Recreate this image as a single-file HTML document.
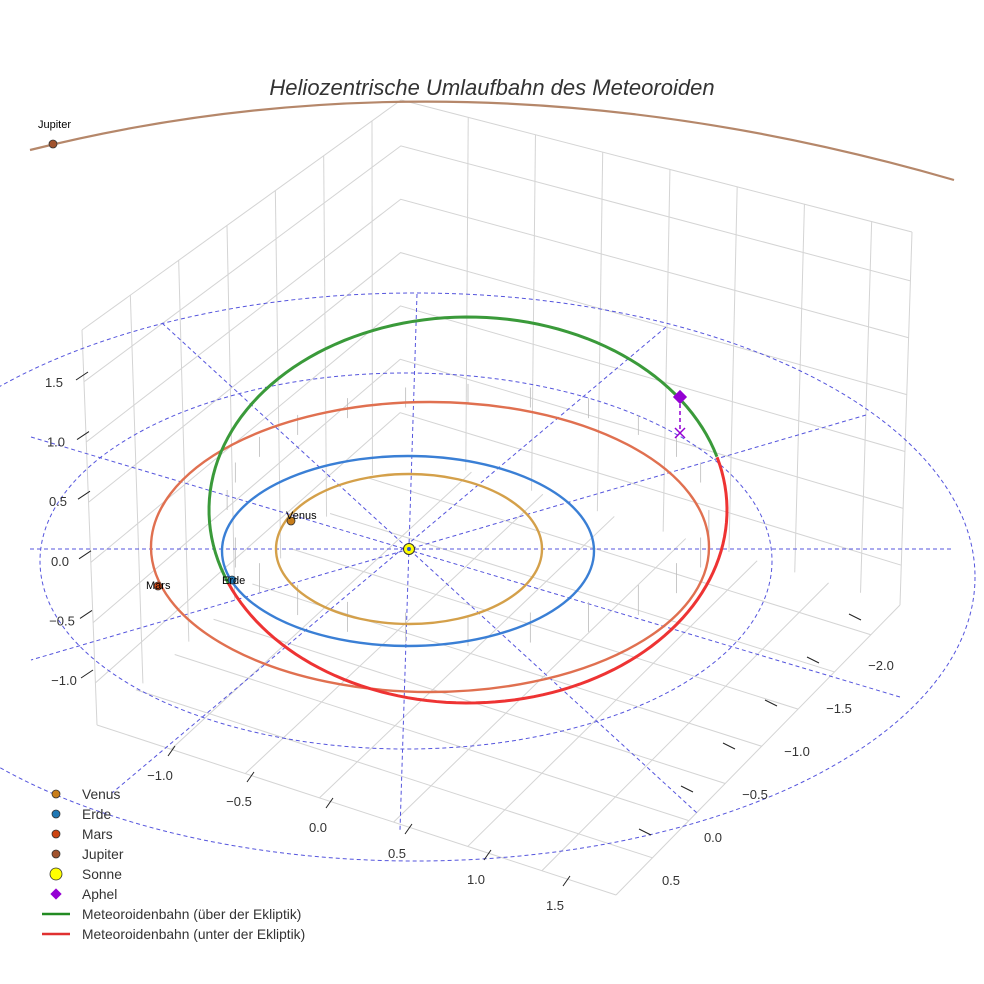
<!DOCTYPE html>
<html><head><meta charset="utf-8"><style>
body{margin:0;background:#fff}
svg{display:block;font-family:"Liberation Sans",sans-serif}
</style></head><body>
<svg id="c" width="984" height="984" viewBox="0 0 984 984">
<text x="492" y="95" font-size="22" font-style="italic" fill="#333" text-anchor="middle">Heliozentrische Umlaufbahn des Meteoroiden</text>
<g id="grid" stroke="#d4d4d4" stroke-width="1" fill="none"></g>
<g id="guides" stroke="#5555dd" stroke-width="1" stroke-dasharray="4,3" fill="none"></g>
<g id="orbits"></g>
<g id="ticks" font-size="13" fill="#333"></g>
<g id="legend" font-size="13.8" fill="#333"></g>
</svg>
<script>
const NS='http://www.w3.org/2000/svg';
const orbitNames=['Venus','Erde','Mars'];
const orbitCx=[409,408,430];
const orbitCy=[549,551,547];
const orbitRx=[133,186,279];
const orbitRy=[75,95,145];
const orbitColors=['#d4a04a','#3a7fd5','#e07050'];
const meteorCx=468, meteorCy=510, meteorRx=259, meteorRy=193;
const zTicks=['1.5','1.0','0.5','0.0','−0.5','−1.0'];
const xTicks=['−1.0','−0.5','0.0','0.5','1.0','1.5'];
const yTicks=['−2.0','−1.5','−1.0','−0.5','0.0','0.5'];
const legendLabels=['Venus','Erde','Mars','Jupiter','Sonne','Aphel','Meteoroidenbahn (über der Ekliptik)','Meteoroidenbahn (unter der Ekliptik)'];
const legendColors=['#c87d1a','#1f77b4','#cc4411','#a0522d','#ffff00','#9400d3','#228b22','#e03030'];

function el(t,a,p){const e=document.createElementNS(NS,t);for(const k in a)e.setAttribute(k,a[k]);p.appendChild(e);return e;}
const G=id=>document.getElementById(id);
function ell(cx,cy,rx,ry,t){return [cx+rx*Math.cos(t),cy-ry*Math.sin(t)];}
function lerp(a,b,t){return [a[0]+(b[0]-a[0])*t,a[1]+(b[1]-a[1])*t];}
function ln(p,q,par,attrs){const a={x1:p[0],y1:p[1],x2:q[0],y2:q[1]};for(const k in attrs||{})a[k]=attrs[k];return el('line',a,par);}

const grid=G('grid');
const Lt=[82,330],Lb=[97,725],Ct=[401,100],Cb=[400,450],Rt=[912,232],Rb=[900,605],F=[616,895];
const zTop=1.93,zBot=-1.35;
ln(Lt,Ct,grid);ln(Ct,Rt,grid);ln(Lt,Lb,grid);ln(Rt,Rb,grid);
for(let z=1.5;z>-1.3;z-=0.5){const t=(zTop-z)/(zTop-zBot);
  const l=el('polyline',{points:[lerp(Lt,Lb,t),lerp(Ct,Cb,t),lerp(Rt,Rb,t)].map(p=>p.join(',')).join(' ')},grid);
  
  }
for(let i=1;i<=6;i++){const u=i/6.6;ln(lerp(Lt,Ct,u),lerp(Lb,Cb,u),grid);}
for(let i=1;i<=7;i++){const u=i/7.6;ln(lerp(Ct,Rt,u),lerp(Cb,Rb,u),grid);}
ln(Lb,F,grid);ln(F,Rb,grid);
for(let i=1;i<=6;i++){const u=i/7;ln(lerp(Lb,F,u),lerp(Cb,Rb,u),grid);}
for(let i=1;i<=7;i++){const u=i/7.8;ln(lerp(F,Rb,u),lerp(Lb,Cb,u),grid);}

const gd=G('guides');
el('ellipse',{cx:406,cy:561,rx:366,ry:188},gd);
el('ellipse',{cx:415,cy:577,rx:560,ry:284},gd);
[[[30,549],[954,549]],[[417,294],[400,830]],[[162,323],[697,813]],[[666,327],[112,793]],[[31,437],[900,697]],[[866,415],[31,660]]].forEach(s=>ln(s[0],s[1],gd));

const ob=G('orbits');
let l=el('path',{d:'M30,150 Q470,40 954,180',stroke:'#b5876a','stroke-width':2.2,fill:'none'},ob);


for(let i=0;i<24;i++){const t=i/24*2*Math.PI;const [x,y]=ell(meteorCx,meteorCy,meteorRx*0.93,meteorRy*0.55,t);el('line',{x1:x,y1:y,x2:x,y2:y+(Math.sin(t)>0?-20:30),stroke:'#bbb','stroke-width':0.8},ob);}
orbitNames.forEach((n,i)=>{
  const e=el('ellipse',{cx:orbitCx[i],cy:orbitCy[i],rx:orbitRx[i],ry:orbitRy[i],stroke:orbitColors[i],'stroke-width':2.4,fill:'none'},ob);
  
  
});
function arc(t0,t1,col,name){let pts=[];for(let i=0;i<=80;i++){const t=t0+(t1-t0)*i/80;pts.push(ell(meteorCx,meteorCy,meteorRx,meteorRy,t).join(','));}
 const p=el('polyline',{points:pts.join(' '),stroke:col,'stroke-width':3,fill:'none'},ob);
 
 }
arc(0.28,3.53,'#3a9a3a','meteoroid-orbit-above');
arc(3.53,6.56,'#ee3333','meteoroid-orbit-below');
const planets=[[291,521,'#c87d1a','Venus',286,519],[232,580,'#1f77b4','Erde',222,584],[158,586,'#cc4411','Mars',146,589],[53,144,'#a0522d','Jupiter',38,128]];
planets.forEach(p=>{const c=el('circle',{cx:p[0],cy:p[1],r:4,fill:p[2],stroke:'#333','stroke-width':0.8},ob);
 
 
 const t=el('text',{x:p[4],y:p[5],'font-size':11,fill:'#000'},ob);t.textContent=p[3];});
const sun=el('circle',{cx:409,cy:549,r:5.5,fill:'#ffff00',stroke:'#333','stroke-width':1},ob);


el('circle',{cx:409,cy:549,r:2,fill:'#3355cc'},ob);
el('line',{x1:680,y1:397,x2:680,y2:433,stroke:'#9400d3','stroke-width':1.5,'stroke-dasharray':'4,3'},ob);
const ap=el('rect',{x:675,y:392,width:10,height:10,fill:'#9400d3',transform:'rotate(45 680 397)'},ob);


el('path',{d:'M675,428 l10,10 M685,428 l-10,10',stroke:'#9400d3','stroke-width':1.5},ob);

const tk=G('ticks');
zTicks.forEach((s,i)=>{const y=382+i*59.6;const t=el('text',{x:54+i*2,y:y+5,'text-anchor':'middle'},tk);t.textContent=s;el('line',{x1:76+i*1,y1:y-2,x2:88+i,y2:y-10,stroke:'#222'},tk);});
xTicks.forEach((s,i)=>{const x=160+i*79,y=780+i*26;const t=el('text',{x:x,y:y,'text-anchor':'middle'},tk);t.textContent=s;el('line',{x1:x+8,y1:y-24,x2:x+15,y2:y-34,stroke:'#222'},tk);});
yTicks.forEach((s,i)=>{const x=881-i*42,y=670+i*43;const t=el('text',{x:x,y:y,'text-anchor':'middle'},tk);t.textContent=s;el('line',{x1:x-20,y1:y-50,x2:x-32,y2:y-56,stroke:'#222'},tk);});

const lg=G('legend');
legendLabels.forEach((s,i)=>{const y=795+i*20;
 if(i<5){el('circle',{cx:56,cy:y-1,r:i==4?6:4,fill:legendColors[i],stroke:'#333','stroke-width':0.8},lg);}
 else if(i==5){el('rect',{x:52,y:y-5,width:8,height:8,fill:legendColors[i],transform:`rotate(45 56 ${y-1})`},lg);}
 else{el('line',{x1:42,y1:y-1,x2:70,y2:y-1,stroke:legendColors[i],'stroke-width':2.5},lg);}
 const t=el('text',{x:82,y:y+4},lg);t.textContent=s;
 
 });
</script>
</body></html>
